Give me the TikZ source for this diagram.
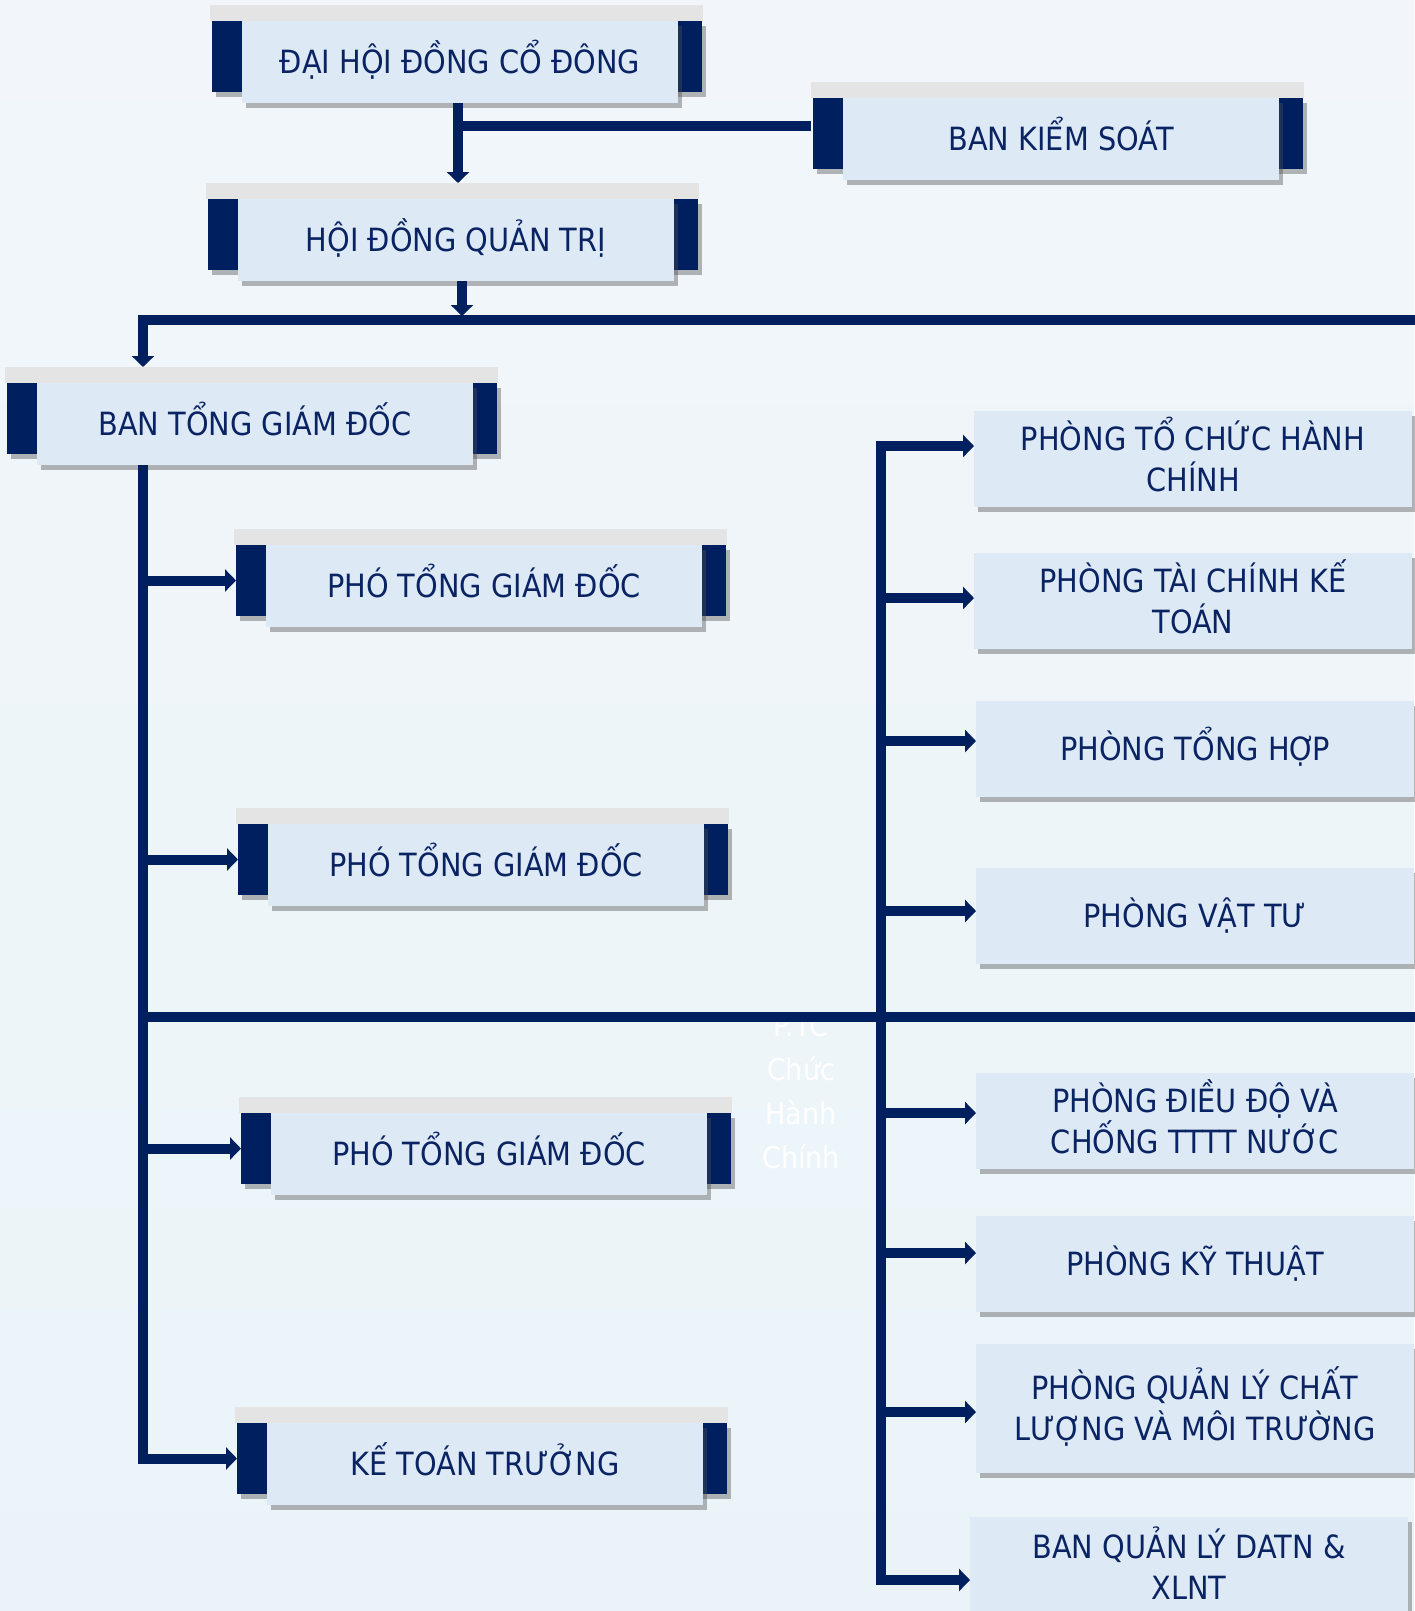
\documentclass[tikz,border=0pt]{standalone}
\usepackage{fontspec}
\setmainfont[FakeStretch=0.9]{DejaVu Sans}
\usetikzlibrary{arrows.meta,shadows}
\definecolor{navy}{HTML}{001F5F}
\definecolor{lightbox}{HTML}{DDE9F5}
\definecolor{stripgray}{HTML}{E4E4E4}
\definecolor{txt}{HTML}{0A2463}
\definecolor{bgtop}{HTML}{F2F6FA}
\definecolor{bgmid}{HTML}{FBFDFE}
\definecolor{bgbot}{HTML}{EAF4F8}
\tikzset{
  boxfont/.style={font=\fontsize{32}{41}\selectfont},
  shad/.style={drop shadow={shadow xshift=4pt, shadow yshift=-5pt, opacity=0.4, fill=black!70}},
  stripbox/.style={fill=stripgray, draw=none, minimum width=493pt, minimum height=16pt, inner sep=0pt, outer sep=0pt},
  navybox/.style={fill=navy, draw=none, minimum width=490pt, minimum height=71pt, inner sep=0pt, outer sep=0pt, shad},
  lbox/.style={fill=lightbox, draw=none, minimum width=436pt, minimum height=82pt, inner sep=0pt, outer sep=0pt,
    text=txt, boxfont, align=center, text height=23pt, text depth=0pt, shad},
  rbox/.style={fill=lightbox, draw=none, minimum width=438pt, minimum height=96pt, inner sep=0pt, outer sep=0pt,
    text=txt, boxfont, align=center, text height=23pt, text depth=0pt, shad},
  twoline/.style={text height=64pt},
  conn/.style={draw=navy, line width=10pt},
  arr/.style={conn, -{Triangle[width=22pt,length=11pt]}},
  ghost/.style={text=white, font=\fontsize{30}{44}\selectfont, align=center, inner sep=0pt}
}
\newcommand\orgbox[4]{%
  \node[stripbox, anchor=north west] (#1-s) at ({#2-250},{#3}) {};
  \node[navybox, anchor=north west] (#1-n) at ({#2-248},{#3+16}) {};
  \node[lbox, anchor=north] (#1) at ({#2},{#3+16}) {#4};
}
\begin{document}
\begin{tikzpicture}[x=1pt,y=-1pt]
\shade[top color=bgtop, middle color=bgmid, bottom color=bgbot] (0,0) rectangle (1414,1611);
\useasboundingbox (0,0) rectangle (1414,1611);

% faint ghost text behind the connectors
\node[ghost] (gh) at (801,1092) {P.TC\\Chức\\Hành\\Chính};

% top boxes
\orgbox{dh}{460}{5}{ĐẠI HỘI ĐỒNG CỔ ĐÔNG}
\orgbox{bks}{1061}{82}{BAN KIỂM SOÁT}
\orgbox{hd}{456}{183}{HỘI ĐỒNG QUẢN TRỊ}
\orgbox{btgd}{255}{367}{BAN TỔNG GIÁM ĐỐC}
\orgbox{p1}{484}{529}{PHÓ TỔNG GIÁM ĐỐC}
\orgbox{p2}{486}{808}{PHÓ TỔNG GIÁM ĐỐC}
\orgbox{p3}{489}{1097}{PHÓ TỔNG GIÁM ĐỐC}
\orgbox{ktt}{485}{1407}{KẾ TOÁN TRƯỞNG}

% right column
\node[rbox, twoline, anchor=north west] (tchc) at (974,411) {PHÒNG TỔ CHỨC HÀNH\\CHÍNH};
\node[rbox, twoline, anchor=north west] (tckt) at (974,553) {PHÒNG TÀI CHÍNH KẾ\\TOÁN};
\node[rbox, anchor=north west] (th) at (976,701) {PHÒNG TỔNG H^^^^1ee2\kern-3.5pt P};
\node[rbox, anchor=north west] (vt) at (976,868) {PHÒNG VẬT TƯ};
\node[rbox, twoline, anchor=north west] (dd) at (976,1073) {PHÒNG ĐIỀU ĐỘ VÀ\\CHỐNG TTTT NƯỚC};
\node[rbox, anchor=north west] (kt) at (976,1216) {PHÒNG KỸ THUẬT};
\node[rbox, twoline, anchor=north west, minimum height=129pt] (qlcl) at (976,1344) {PHÒNG QUẢN LÝ CHẤT\\L^^^^01af^^^^1ee2NG VÀ MÔI TR^^^^01af^^^^1edc\kern-3.5pt NG};
\node[rbox, twoline, anchor=north west, minimum height=100pt] (datn) at (970,1517) {BAN QUẢN LÝ DATN \&\\XLNT};

% connectors: top
\coordinate (j1) at (458,126);
\draw[arr] (dh.south -| j1) -- (j1 |- hd-s.north);
\draw[conn] (j1) -- (j1 -| bks-s.west);
\coordinate (j2) at (462,316);
\draw[arr] (hd.south -| j2) -- (j2);
\coordinate (b1) at (143,320);
\coordinate (b1e) at (1420,320);
\draw[arr] (b1e) -- (b1) -- (b1 |- btgd-s.north);

% left trunk
\draw[arr] (btgd.south -| b1) |- (ktt-n.west);
\draw[arr] (b1 |- p1-n.west) -- (p1-n.west);
\draw[arr] (b1 |- p2-n.west) -- (p2-n.west);
\draw[arr] (b1 |- p3-n.west) -- (p3-n.west);
\coordinate (b2) at (143,1017);
\coordinate (b2e) at (1420,1017);
\draw[conn] (b2) -- (b2e);

% right trunk
\coordinate (r1) at (881,446);
\coordinate (r8) at (881,1580);
\draw[conn, {Triangle[width=22pt,length=11pt]}-{Triangle[width=22pt,length=11pt]}]
  (r1 -| tchc.west) -- (r1) -- (r8) -- (r8 -| datn.west);
\coordinate (r2) at (881,598);
\coordinate (r3) at (881,741);
\coordinate (r4) at (881,911);
\coordinate (r5) at (881,1113);
\coordinate (r6) at (881,1253);
\coordinate (r7) at (881,1412);
\draw[arr] (r2) -- (r2 -| tckt.west);
\draw[arr] (r3) -- (r3 -| th.west);
\draw[arr] (r4) -- (r4 -| vt.west);
\draw[arr] (r5) -- (r5 -| dd.west);
\draw[arr] (r6) -- (r6 -| kt.west);
\draw[arr] (r7) -- (r7 -| qlcl.west);
\end{tikzpicture}
\end{document}
